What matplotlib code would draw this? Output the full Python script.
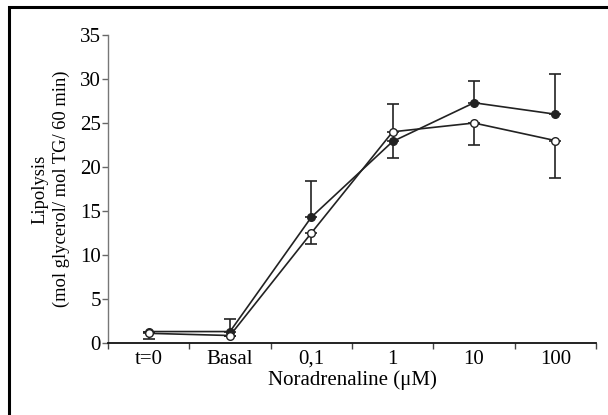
import matplotlib.pyplot as plt
from matplotlib.patches import Rectangle
import numpy as np

# categories and values
categories = ["t=0", "Basal", "0,1", "1", "10", "100"]
filled_vals = [1.3, 1.3, 14.3, 22.9, 27.3, 26.0]
filled_err_up = [0.0, 1.4, 4.1, 0.0, 2.5, 4.6]
filled_err_dn = [0.0, 0.0, 0.0, 1.9, 0.0, 0.0]
open_vals = [1.1, 0.85, 12.5, 24.0, 25.0, 23.0]
open_err_up = [0.0, 0.0, 0.0, 3.2, 0.0, 0.0]
open_err_dn = [0.6, 0.0, 1.25, 0.0, 2.5, 4.2]

plt.rcParams['font.family'] = ['Liberation Serif', 'DejaVu Serif']

fig = plt.figure(figsize=(6.08, 4.15), dpi=100)
ax = fig.add_axes([108 / 608, 72 / 415, 488 / 608, 308 / 415])

x = np.arange(len(categories))

ax.errorbar(x, open_vals, yerr=[open_err_dn, open_err_up], fmt='none',
            ecolor='#222222', elinewidth=1.2, capsize=4, capthick=1.2, zorder=2)
ax.errorbar(x, filled_vals, yerr=[filled_err_dn, filled_err_up], fmt='none',
            ecolor='#222222', elinewidth=1.2, capsize=4, capthick=1.2, zorder=2)
ax.plot(x, filled_vals, color='#222222', lw=1.2, marker='o', ms=5.5,
        mfc='#222222', mec='#222222', zorder=3)
ax.plot(x, open_vals, color='#222222', lw=1.2, marker='o', ms=5.5,
        mfc='white', mec='#222222', mew=1.0, zorder=4)

ax.set_xlim(-0.5, len(categories) - 0.5)
ax.set_ylim(0, 35)
ax.set_yticks(np.arange(0, 36, 5))
ax.set_xticks(x)
ax.set_xticklabels(categories)
ax.set_xticks(np.arange(-0.5, len(categories)), minor=True)
ax.tick_params(axis='x', which='major', length=0, labelsize=15, pad=5)
ax.tick_params(axis='x', which='minor', length=4, width=1, color='#444444')
ax.tick_params(axis='y', length=4, width=1, color='#666666', labelsize=15, pad=1)

for s in ['top', 'right']:
    ax.spines[s].set_visible(False)
ax.spines['left'].set_color('#777777')
ax.spines['left'].set_linewidth(1.0)
ax.spines['bottom'].set_color('#111111')
ax.spines['bottom'].set_linewidth(1.3)

ax.set_xlabel('Noradrenaline (\u03bcM)', fontsize=15, labelpad=1)
ax.set_ylabel('Lipolysis\n(mol glycerol/ mol TG/ 60 min)', fontsize=13.3,
              linespacing=1.35, labelpad=7)

# outer frame, cut off at right and bottom like the reference
fig.patches.append(Rectangle((8.5 / 608, -0.1), 1.2, 1 - 7 / 415 + 0.1,
                             transform=fig.transFigure, fill=False,
                             lw=2.2, ec='black'))

fig.savefig('out.png', dpi=100)
